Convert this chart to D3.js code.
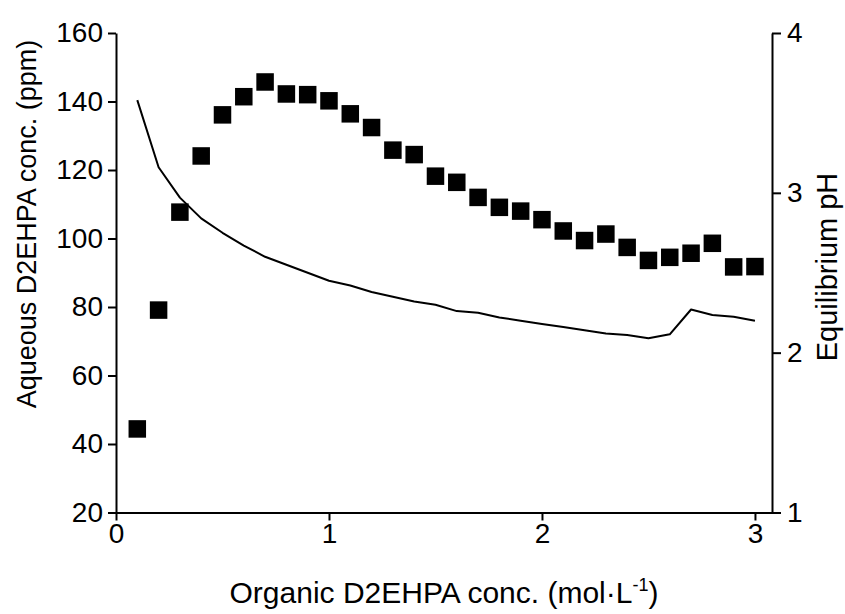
<!DOCTYPE html>
<html>
<head>
<meta charset="utf-8">
<script src="https://cdn.jsdelivr.net/npm/d3@7"></script>
<style>
  body { margin: 0; background: #fff; }
  svg text { font-family: "Liberation Sans", Arial, sans-serif; fill: #000; }
</style>
</head>
<body>
<div id="chart"></div>
<script>
// data
const conc = [0.1, 0.2, 0.3, 0.4, 0.5, 0.6, 0.7, 0.8, 0.9, 1.0,
              1.1, 1.2, 1.3, 1.4, 1.5, 1.6, 1.7, 1.8, 1.9, 2.0,
              2.1, 2.2, 2.3, 2.4, 2.5, 2.6, 2.7, 2.8, 2.9, 3.0];
const aqueousPpm = [44.4, 79.1, 107.7, 124.1, 136.1, 141.4, 145.7, 142.2, 142.0, 140.2,
                    136.4, 132.4, 125.8, 124.5, 118.2, 116.4, 112.0, 109.1, 108.0, 105.5,
                    102.2, 99.4, 101.3, 97.4, 93.6, 94.5, 95.7, 98.6, 91.7, 91.8];
const eqPH = [3.58, 3.16, 2.97, 2.84, 2.75, 2.67, 2.60, 2.55, 2.50, 2.45,
              2.42, 2.38, 2.35, 2.32, 2.30, 2.26, 2.25, 2.22, 2.20, 2.18,
              2.16, 2.14, 2.12, 2.11, 2.09, 2.115, 2.27, 2.236, 2.225, 2.20];
const xTicks = [0, 1, 2, 3];
const yLeftTicks = [20, 40, 60, 80, 100, 120, 140, 160];
const yRightTicks = [1, 2, 3, 4];

// set the dimensions and margins of the graph
const margin = {top: 33, right: 73, bottom: 101.5, left: 116},
    width = 845 - margin.left - margin.right,
    height = 614 - margin.top - margin.bottom;

const svg = d3.select("#chart")
    .append("svg")
    .attr("width", 845)
    .attr("height", 614)
    .append("g")
    .attr("transform", `translate(${margin.left}, ${margin.top})`);

const x = d3.scaleLinear().domain([0, 3.08]).range([0, width]);
const yL = d3.scaleLinear().domain([20, 160]).range([height, 0]);
const yR = d3.scaleLinear().domain([1, 4]).range([height, 0]);

// axes
const xAxis = svg.append("g")
    .attr("transform", `translate(0, ${height})`)
    .call(d3.axisBottom(x).tickValues(xTicks).tickFormat(d3.format("d"))
        .tickSizeInner(8).tickSizeOuter(0).tickPadding(3));
const yAxisL = svg.append("g")
    .call(d3.axisLeft(yL).tickValues(yLeftTicks).tickFormat(d3.format("d"))
        .tickSizeInner(8).tickSizeOuter(0).tickPadding(5));
const yAxisR = svg.append("g")
    .attr("transform", `translate(${width}, 0)`)
    .call(d3.axisRight(yR).tickValues(yRightTicks).tickFormat(d3.format("d"))
        .tickSizeInner(9).tickSizeOuter(0).tickPadding(6));

[xAxis, yAxisL, yAxisR].forEach(function(a) {
  a.selectAll("path, line").attr("stroke", "#000").attr("stroke-width", 2);
  a.selectAll("text").attr("font-size", 28).attr("fill", "#000")
    .attr("font-family", "'Liberation Sans', Arial, sans-serif");
});

// pH line
const line = d3.line()
    .x(function(d, i) { return x(conc[i]); })
    .y(function(d) { return yR(d); });
svg.append("path")
    .datum(eqPH)
    .attr("d", line)
    .attr("fill", "none")
    .attr("stroke", "#000")
    .attr("stroke-width", 2)
    .attr("stroke-linejoin", "round");

// aqueous concentration squares
const sq = 17.5;
svg.selectAll("rect.pt")
    .data(aqueousPpm)
    .join("rect")
    .attr("class", "pt")
    .attr("x", function(d, i) { return x(conc[i]) - sq / 2; })
    .attr("y", function(d) { return yL(d) - sq / 2; })
    .attr("width", sq)
    .attr("height", sq)
    .attr("fill", "#000");

// axis titles
const xt = svg.append("text")
    .attr("x", width / 2)
    .attr("y", 603 - margin.top)
    .attr("text-anchor", "middle")
    .attr("font-size", 30);
xt.append("tspan").text("Organic D2EHPA conc. (mol\u00B7L");
xt.append("tspan").attr("font-size", 18).attr("dy", -12).text("-1");
xt.append("tspan").attr("dy", 12).text(")");

svg.append("text")
    .attr("transform", "rotate(-90)")
    .attr("x", -(224 - margin.top))
    .attr("y", 36 - margin.left)
    .attr("text-anchor", "middle")
    .attr("font-size", 27)
    .text("Aqueous D2EHPA conc. (ppm)");

svg.append("text")
    .attr("transform", "rotate(-90)")
    .attr("x", -(267 - margin.top))
    .attr("y", 837 - margin.left)
    .attr("text-anchor", "middle")
    .attr("font-size", 29)
    .text("Equilibrium pH");
</script>
</body>
</html>
